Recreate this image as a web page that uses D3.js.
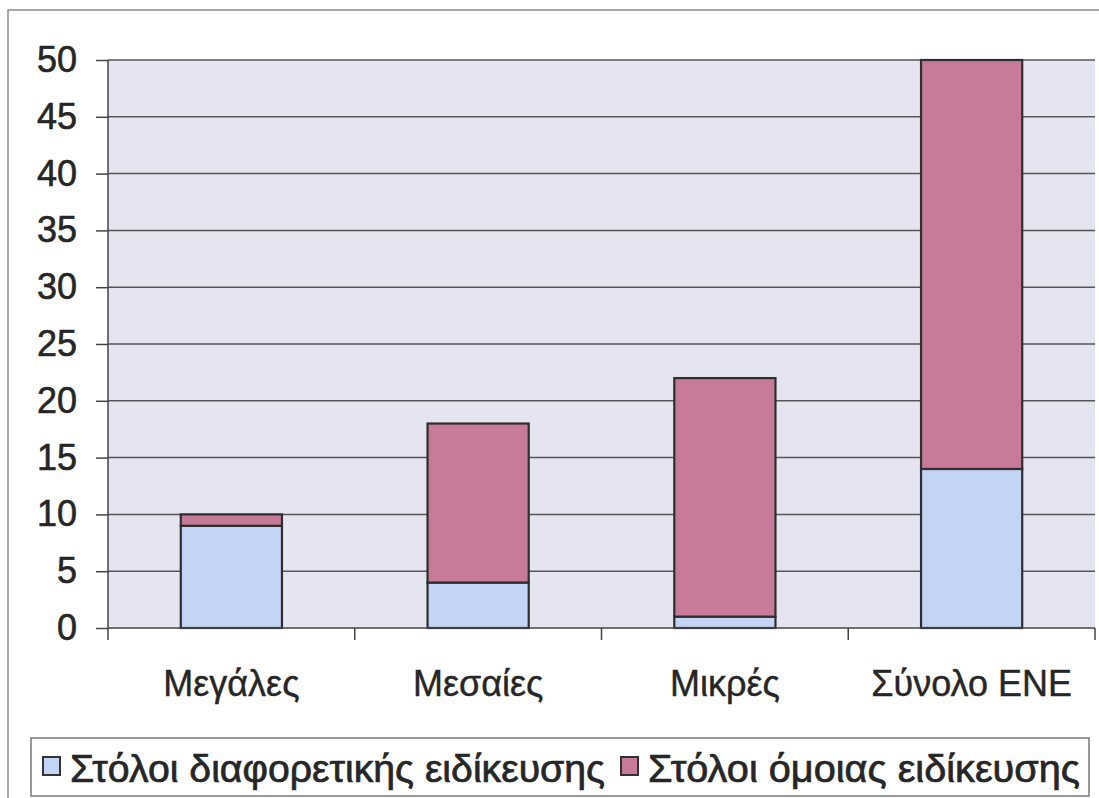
<!DOCTYPE html>
<html>
<head>
<meta charset="utf-8">
<script src="https://cdn.jsdelivr.net/npm/d3@7"></script>
<style>
  html, body { margin: 0; padding: 0; background: #fff; }
  svg { display: block; font-family: "Liberation Sans", Arial, sans-serif; }
</style>
</head>
<body>
<svg id="chart" width="1099" height="798"></svg>
<script>
// Fleet counts per company size
const categories = ["Μεγάλες", "Μεσαίες", "Μικρές", "Σύνολο ΕΝΕ"];
const seriesNames = ["Στόλοι διαφορετικής ειδίκευσης", "Στόλοι όμοιας ειδίκευσης"];
const diffSpec = [9, 4, 1, 14];
const sameSpec = [1, 14, 21, 36];
const yTicks = [0, 5, 10, 15, 20, 25, 30, 35, 40, 45, 50];

const colors = ["#c4d4f4", "#c87a9a"];
const textColor = "#262626";

const svg = d3.select("#chart");
const W = 1099, H = 798;
const m = { left: 108, right: 1095, top: 60, bottom: 628 };

// outer frame (top and left edges)
svg.append("path")
  .attr("d", `M8,${H} L8,10 L${W},10`)
  .attr("fill", "none").attr("stroke", "#8a8a8a").attr("stroke-width", 1.5);

const x = d3.scaleBand().domain(categories).range([m.left, m.right]).paddingInner(0.59).paddingOuter(0.295);
const xCat = d3.scaleBand().domain(categories).range([m.left, m.right]);
const y = d3.scaleLinear().domain([0, 50]).range([m.bottom, m.top]);

// plot background
svg.append("rect")
  .attr("x", m.left).attr("y", m.top)
  .attr("width", m.right - m.left).attr("height", m.bottom - m.top)
  .attr("fill", "#e4e5f0");

// horizontal gridlines
svg.append("g").selectAll("line").data(yTicks.filter(d => d > 0)).join("line")
  .attr("x1", m.left).attr("x2", m.right)
  .attr("y1", d => y(d)).attr("y2", d => y(d))
  .attr("stroke", "#555").attr("stroke-width", 1.5);

// stacked bars
const rows = categories.map((c, i) => ({ cat: c, a: diffSpec[i], b: sameSpec[i] }));
const stack = d3.stack().keys(["a", "b"])(rows);
stack.forEach((layer, k) => {
  svg.append("g").selectAll("rect").data(layer).join("rect")
    .attr("x", d => x(d.data.cat))
    .attr("width", x.bandwidth())
    .attr("y", d => y(d[1]))
    .attr("height", d => y(d[0]) - y(d[1]))
    .attr("fill", colors[k])
    .attr("stroke", "#2e2e2e")
    .attr("stroke-width", 2.2);
});

// y axis
const yAxis = svg.append("g")
  .attr("transform", `translate(${m.left},0)`)
  .call(d3.axisLeft(y).tickValues(yTicks).tickSize(12).tickPadding(19));
yAxis.select(".domain").attr("stroke", "#444").attr("stroke-width", 1.5).attr("d", `M0,${m.top}V${m.bottom}`);
yAxis.selectAll(".tick line").attr("stroke", "#444").attr("stroke-width", 1.5);
yAxis.selectAll("text").attr("font-size", 36).attr("fill", textColor)
  .attr("stroke", textColor).attr("stroke-width", 0.6)
  .attr("font-family", "Liberation Sans, Arial, sans-serif");

// x axis: ticks sit on the category boundaries
const xAxisG = svg.append("g").attr("transform", `translate(0,${m.bottom})`);
xAxisG.append("line").attr("x1", m.left).attr("x2", m.right)
  .attr("y1", 0).attr("y2", 0).attr("stroke", "#444").attr("stroke-width", 1.5);
const bounds = categories.map(c => xCat(c)).concat([m.right]);
xAxisG.selectAll("line.t").data(bounds).join("line").attr("class", "t")
  .attr("x1", d => d).attr("x2", d => d).attr("y1", 0).attr("y2", 12)
  .attr("stroke", "#444").attr("stroke-width", 1.5);
xAxisG.selectAll("text").data(categories).join("text")
  .attr("x", d => xCat(d) + xCat.bandwidth() / 2)
  .attr("y", 68)
  .attr("text-anchor", "middle")
  .attr("font-size", 36).attr("fill", textColor)
  .attr("stroke", textColor).attr("stroke-width", 0.4)
  .text(d => d);

// legend
const lg = svg.append("g");
lg.append("rect").attr("x", 31).attr("y", 738).attr("width", 1058).attr("height", 58)
  .attr("fill", "#fff").attr("stroke", "#777").attr("stroke-width", 1.5);
const legendItems = [
  { name: seriesNames[0], color: colors[0], mx: 43, tx: 70, tw: 535 },
  { name: seriesNames[1], color: colors[1], mx: 621, tx: 648, tw: 432 }
];
legendItems.forEach(it => {
  lg.append("rect").attr("x", it.mx).attr("y", 757).attr("width", 17).attr("height", 18)
    .attr("fill", it.color).attr("stroke", "#333").attr("stroke-width", 2);
  lg.append("text").attr("x", it.tx).attr("y", 782)
    .attr("font-size", 38).attr("fill", textColor)
    .attr("stroke", textColor).attr("stroke-width", 0.7)
    .attr("textLength", it.tw).attr("lengthAdjust", "spacingAndGlyphs")
    .text(it.name);
});
</script>
</body>
</html>
